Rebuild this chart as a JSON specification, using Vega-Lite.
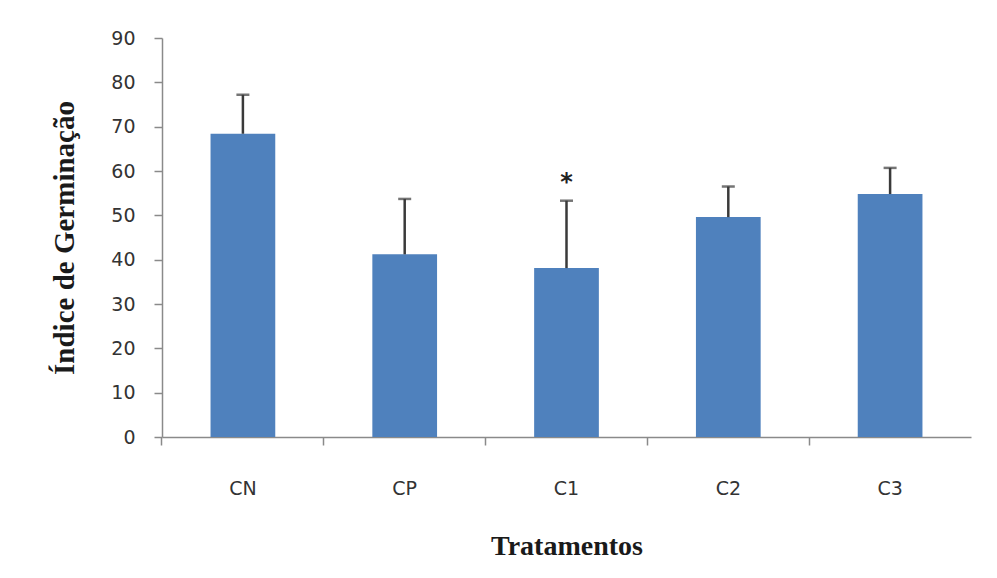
{
  "$schema": "https://vega.github.io/schema/vega-lite/v6.json",
  "autosize": {"type": "none"},
  "padding": {"left": 162, "top": 38, "right": 26, "bottom": 140},
  "width": 809,
  "height": 399,
  "background": "white",
  "config": {"view": {"stroke": null}},
  "data": {"values": [
    {"trat": "CN", "mean": 68.4, "upper": 77.2, "sig": ""},
    {"trat": "CP", "mean": 41.2, "upper": 53.7, "sig": ""},
    {"trat": "C1", "mean": 38.1, "upper": 53.3, "sig": "*"},
    {"trat": "C2", "mean": 49.6, "upper": 56.5, "sig": ""},
    {"trat": "C3", "mean": 54.8, "upper": 60.7, "sig": ""}
  ]},
  "encoding": {
    "x": {
      "field": "trat", "type": "nominal", "sort": null,
      "scale": {"paddingInner": 0.6, "paddingOuter": 0.3},
      "axis": {
        "title": "Tratamentos", "labelAngle": 0, "bandPosition": -0.75,
        "domainColor": "#8a8a8a", "domainWidth": 1.5, "tickColor": "#8a8a8a", "tickWidth": 1.5, "tickSize": 8,
        "labelFont": "DejaVu Sans", "labelFontSize": 19, "labelColor": "#333333", "labelPadding": 34,
        "titleFont": "Liberation Serif", "titleFontSize": 28, "titleFontWeight": "bold", "titleColor": "#1a1a1a", "titlePadding": 34
      }
    }
  },
  "layer": [
    {
      "mark": {"type": "bar", "color": "#4F81BD"},
      "encoding": {
        "y": {
          "field": "mean", "type": "quantitative",
          "scale": {"domain": [0, 90]},
          "axis": {
            "title": "Índice de Germinação", "values": [0,10,20,30,40,50,60,70,80,90], "grid": false,
            "domainColor": "#8a8a8a", "domainWidth": 1.5, "tickColor": "#8a8a8a", "tickWidth": 1.5, "tickSize": 8,
            "labelFont": "DejaVu Sans", "labelFontSize": 19, "labelColor": "#333333", "labelPadding": 19,
            "titleFont": "Liberation Serif", "titleFontSize": 29, "titleFontWeight": "bold", "titleColor": "#1a1a1a", "titlePadding": 31
          }
        }
      }
    },
    {
      "mark": {"type": "rule", "color": "#3a3a3a", "strokeWidth": 2.5},
      "encoding": {"y": {"field": "mean", "type": "quantitative"}, "y2": {"field": "upper"}}
    },
    {
      "mark": {"type": "tick", "color": "#3a3a3a", "thickness": 2.5, "size": 13, "orient": "horizontal"},
      "encoding": {"y": {"field": "upper", "type": "quantitative"}}
    },
    {
      "mark": {"type": "text", "font": "DejaVu Sans", "fontSize": 24, "fontWeight": "bold", "color": "#222222", "dy": -18, "baseline": "middle"},
      "encoding": {"y": {"field": "upper", "type": "quantitative"}, "text": {"field": "sig"}}
    }
  ]
}
